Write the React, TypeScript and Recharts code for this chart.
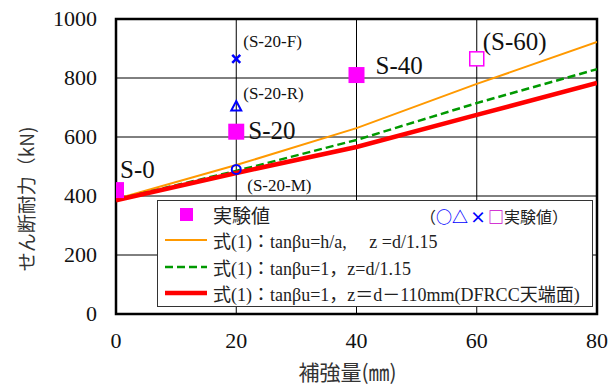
import {
  CartesianGrid,
  ComposedChart,
  Label,
  Legend,
  Line,
  ReferenceArea,
  Scatter,
  XAxis,
  YAxis,
} from "recharts";

// 補強量 (mm) for the calculated lines
const xSteps = [0, 20, 40, 60, 80];
// 式(1): tanβu=h/a, z=d/1.15
const calcHA = [390, 505, 630, 780, 922];
// 式(1): tanβu=1, z=d/1.15
const calcOne = [388, 485, 590, 715, 830];
// 式(1): tanβu=1, z=d-110mm
const calcTop = [385, 478, 566, 675, 783];

// experimental values
const expNames = ["S-0", "S-20", "S-40"];
const expX = [0, 20, 40];
const expY = [420, 618, 810];

const refNames = ["(S-60)"];
const refX = [60];
const refY = [865];

const fNames = ["(S-20-F)"];
const fX = [20];
const fY = [865];
const rNames = ["(S-20-R)"];
const rX = [20];
const rY = [705];
const mNames = ["(S-20-M)"];
const mX = [20];
const mY = [490];

const xTicks = [0, 20, 40, 60, 80];
const yTicks = [0, 200, 400, 600, 800, 1000];

const toLine = (ys: number[]) => xSteps.map((x, i) => ({ x, y: ys[i] }));
const toPts = (names: string[], xs: number[], ys: number[]) =>
  names.map((name, i) => ({ name, x: xs[i], y: ys[i] }));

const SERIF = "Liberation Serif, Noto Sans CJK JP, serif";
const CJK = "Noto Sans CJK JP, sans-serif";
const MAGENTA = "#ff00ff";
const BLUE = "#0000ff";

// label placement relative to the marker (dx, dy to text baseline), font size
const labelStyle: Record<string, [number, number, number]> = {
  "S-0": [4, -12, 25],
  "S-20": [12, 7, 25],
  "S-40": [19, -1, 25],
  "(S-60)": [6, -9, 25],
  "(S-20-F)": [7, -12, 17],
  "(S-20-R)": [7, -7, 17],
  "(S-20-M)": [11, 22, 17],
};

function PtLabel({ cx, cy, name }: { cx: number; cy: number; name: string }) {
  const [dx, dy, fs] = labelStyle[name] ?? [6, -6, 17];
  return (
    <text x={cx + dx} y={cy + dy} style={{ fontFamily: SERIF, fontSize: fs }} fill="#111">
      {name}
    </text>
  );
}

const XTick = (p: any) => (
  <text x={p.x} y={p.y + 16} textAnchor="middle" style={{ fontFamily: SERIF, fontSize: 22 }} fill="#111">
    {p.payload.value}
  </text>
);
const YTick = (p: any) => (
  <text x={p.x} y={p.y + 7} textAnchor="end" style={{ fontFamily: SERIF, fontSize: 22 }} fill="#111">
    {p.payload.value}
  </text>
);

const squareShape = (props: any) => (
  <g>
    <rect x={props.cx - 8} y={props.cy - 8} width={16} height={16} fill={MAGENTA} />
    <PtLabel cx={props.cx} cy={props.cy} name={props.payload.name} />
  </g>
);
const hollowShape = (props: any) => (
  <g>
    <rect x={props.cx - 7} y={props.cy - 7} width={14} height={14} fill="#fff" stroke={MAGENTA} strokeWidth={1.5} />
    <PtLabel cx={props.cx} cy={props.cy} name={props.payload.name} />
  </g>
);
const crossShape = (props: any) => (
  <g>
    <path
      d={`M${props.cx - 4},${props.cy - 4}L${props.cx + 4},${props.cy + 4}M${props.cx + 4},${props.cy - 4}L${props.cx - 4},${props.cy + 4}`}
      stroke={BLUE}
      strokeWidth={2.5}
    />
    <PtLabel cx={props.cx} cy={props.cy} name={props.payload.name} />
  </g>
);
const triShape = (props: any) => (
  <g>
    <path
      d={`M${props.cx},${props.cy - 5}L${props.cx + 5},${props.cy + 4.5}L${props.cx - 5},${props.cy + 4.5}Z`}
      fill="none"
      stroke={BLUE}
      strokeWidth={2}
    />
    <PtLabel cx={props.cx} cy={props.cy} name={props.payload.name} />
  </g>
);
const circleShape = (props: any) => (
  <g>
    <circle cx={props.cx} cy={props.cy} r={4.5} fill="none" stroke={BLUE} strokeWidth={2} />
    <PtLabel cx={props.cx} cy={props.cy} name={props.payload.name} />
  </g>
);

function LegendBox() {
  return (
    <div
      style={{
        width: 434,
        height: 105,
        background: "#fff",
        border: "1px solid #333",
      }}
    >
      <svg width={434} height={105} style={{ display: "block" }}>
        <rect x={22} y={7} width={13} height={13} fill={MAGENTA} />
        <text x={55} y={22} style={{ fontFamily: CJK, fontSize: 19 }} fill="#222">
          実験値
        </text>
        <text x={262} y={22} style={{ fontFamily: CJK, fontSize: 16 }} fill="#222">
          （
          <tspan fill={BLUE} fontWeight="bold">○△</tspan>
          <tspan fill={BLUE} fontWeight="bold" dx={2}>×</tspan>
          <tspan fill="#cc00cc" fontWeight="bold" dx={2}>□</tspan>
          実験値）
        </text>

        <line x1={7} x2={49} y1={39} y2={39} stroke="#ff9900" strokeWidth={2} />
        <text x={55} y={47} style={{ fontFamily: SERIF, fontSize: 18 }} fill="#222">
          式(1)：tanβu=h/a,　 z =d/1.15
        </text>

        <line x1={7} x2={49} y1={66} y2={66} stroke="#009900" strokeWidth={2.5} strokeDasharray="8 4" />
        <text x={55} y={74} style={{ fontFamily: SERIF, fontSize: 18 }} fill="#222">
          式(1)：tanβu=1，z=d/1.15
        </text>

        <line x1={7} x2={49} y1={92} y2={92} stroke="#ff0000" strokeWidth={4.5} />
        <text x={55} y={100} style={{ fontFamily: SERIF, fontSize: 18 }} fill="#222">
          式(1)：tanβu=1，z＝d－110mm(DFRCC天端面)
        </text>
      </svg>
    </div>
  );
}

export default function App() {
  return (
    <div style={{ position: "absolute", left: 0, top: 0, background: "#fff" }}>
      <ComposedChart
        width={614}
        height={385}
        margin={{ top: 19, right: 17, bottom: 0, left: 0 }}
      >
        <CartesianGrid stroke="#000" strokeWidth={1} />
        <XAxis
          dataKey="x"
          type="number"
          domain={[0, 80]}
          ticks={xTicks}
          height={71}
          axisLine={false}
          tickLine={false}
          tickSize={0}
          tickMargin={18}
          tick={XTick}
          allowDataOverflow
        >
          <Label
            content={(p: any) => (
              <text
                x={p.viewBox.x + p.viewBox.width / 2 - 9}
                y={p.viewBox.y + 66}
                textAnchor="middle"
                style={{ fontFamily: CJK, fontSize: 21 }}
                fill="#333"
              >
                補強量(㎜)
              </text>
            )}
          />
        </XAxis>
        <YAxis
          type="number"
          domain={[0, 1000]}
          ticks={yTicks}
          width={116}
          axisLine={false}
          tickLine={false}
          tickSize={0}
          tickMargin={19}
          tick={YTick}
          allowDataOverflow
        >
          <Label
            content={() => (
              <text
                x={25}
                y={199}
                transform="rotate(-90 25 199)"
                textAnchor="middle"
                dominantBaseline="central"
                style={{ fontFamily: CJK, fontSize: 19 }}
                fill="#333"
              >
                せん断耐力（kN)
              </text>
            )}
          />
        </YAxis>

        <Line data={toLine(calcHA)} dataKey="y" type="linear" stroke="#ff9900" strokeWidth={2} dot={false} isAnimationActive={false} />
        <Line data={toLine(calcOne)} dataKey="y" type="linear" stroke="#009900" strokeWidth={2.5} strokeDasharray="8 4" dot={false} isAnimationActive={false} />
        <Line data={toLine(calcTop)} dataKey="y" type="linear" stroke="#ff0000" strokeWidth={4.5} dot={false} isAnimationActive={false} />

        <Scatter data={toPts(expNames, expX, expY)} dataKey="y" shape={squareShape} isAnimationActive={false} />
        <Scatter data={toPts(refNames, refX, refY)} dataKey="y" shape={hollowShape} isAnimationActive={false} />
        <Scatter data={toPts(fNames, fX, fY)} dataKey="y" shape={crossShape} isAnimationActive={false} />
        <Scatter data={toPts(rNames, rX, rY)} dataKey="y" shape={triShape} isAnimationActive={false} />
        <Scatter data={toPts(mNames, mX, mY)} dataKey="y" shape={circleShape} isAnimationActive={false} />

        <ReferenceArea x1={0} x2={80} y1={0} y2={1000} fill="none" stroke="#000" strokeWidth={2.5} ifOverflow="visible" />

        <Legend
          layout="horizontal"
          verticalAlign="middle"
          align="center"
          content={() => <LegendBox />}
          wrapperStyle={{ left: 157, top: 200, width: 436, height: 107 }}
        />
      </ComposedChart>
    </div>
  );
}
